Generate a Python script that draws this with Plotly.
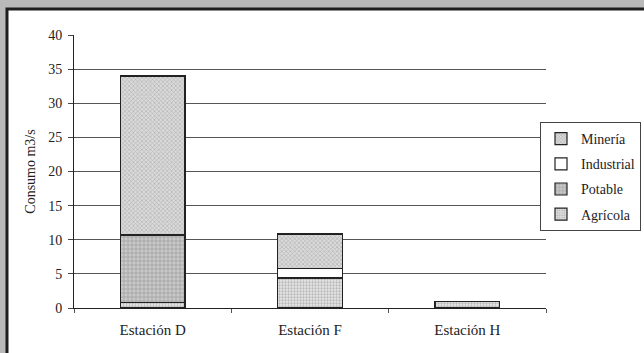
import plotly.graph_objects as go

# Consumo de agua por estación (m3/s); None = sin consumo
estaciones = ["Estación D", "Estación F", "Estación H"]
agricola = [0.8, 4.4, 1.0]
potable = [9.9, None, None]
industrial = [None, 1.35, None]
mineria = [23.3, 5.1, None]

y_ticks = [0, 5, 10, 15, 20, 25, 30, 35, 40]

W, H = 644, 353
L, R, T, B = 74, 98, 35, 45
pw, ph = W - L - R, H - T - B


def px_x(p):
    return (p - L) / pw


def px_y(p):
    return (H - B - p) / ph


serif = "Liberation Serif, Times New Roman, serif"

# stacked bottom to top; legend lists them top to bottom
series = [
    ("Agrícola", agricola, dict(shape=".", fgcolor="#8a8a8a", bgcolor="#e6e6e6", size=3, solidity=0.45)),
    ("Potable", potable, dict(shape="+", fgcolor="#7a7a7a", bgcolor="#c8c8c8", size=4, solidity=0.35)),
    ("Industrial", industrial, dict(shape="", fgcolor="white", bgcolor="white")),
    ("Minería", mineria, dict(shape="x", fgcolor="#8c8c8c", bgcolor="#dadada", size=3, solidity=0.4)),
]

fig = go.Figure()
for i, (name, vals, pat) in enumerate(series):
    fig.add_trace(go.Bar(
        x=estaciones, y=vals, name=name, legendgroup=name,
        legendrank=1000 - i,
        marker=dict(color="white", pattern=pat, line=dict(color="#222", width=1.2)),
    ))

# white panel with dark border over the gray background
fig.add_shape(type="rect", xref="paper", yref="paper",
              x0=px_x(7), x1=px_x(660), y0=px_y(370), y1=px_y(9),
              fillcolor="white", line=dict(color="#1e1e1e", width=3), layer="below")

fig.update_layout(
    width=W, height=H,
    margin=dict(l=L, r=R, t=T, b=B, autoexpand=False),
    barmode="stack", bargap=0.59,
    paper_bgcolor="#b9b9b9", plot_bgcolor="rgba(0,0,0,0)",
    font=dict(family=serif, size=14, color="#222"),
    showlegend=True,
    legend=dict(
        x=px_x(641), y=px_y(122), xanchor="right", yanchor="top",
        traceorder="grouped", bgcolor="white",
        bordercolor="#444", borderwidth=1,
        font=dict(family=serif, size=14, color="#222"),
        itemwidth=30, tracegroupgap=4,
    ),
    xaxis=dict(
        showgrid=False, showline=True, linecolor="#222", linewidth=1,
        ticks="outside", tickson="boundaries", ticklen=4, tickcolor="#555",
        tickfont=dict(family=serif, size=15), ticklabelstandoff=8,
    ),
    yaxis=dict(
        range=[0, 40], tickvals=y_ticks,
        showgrid=True, gridcolor="#555", gridwidth=1,
        showline=True, linecolor="#222", linewidth=1,
        ticks="outside", ticklen=5, tickcolor="#444",
        zeroline=False,
        title=dict(text="Consumo m3/s", font=dict(family=serif, size=14), standoff=9),
        tickfont=dict(family=serif, size=14), ticklabelstandoff=3,
    ),
)

fig.write_html("out.html", config={"displayModeBar": False},
               post_script="document.body.style.margin='0';")
